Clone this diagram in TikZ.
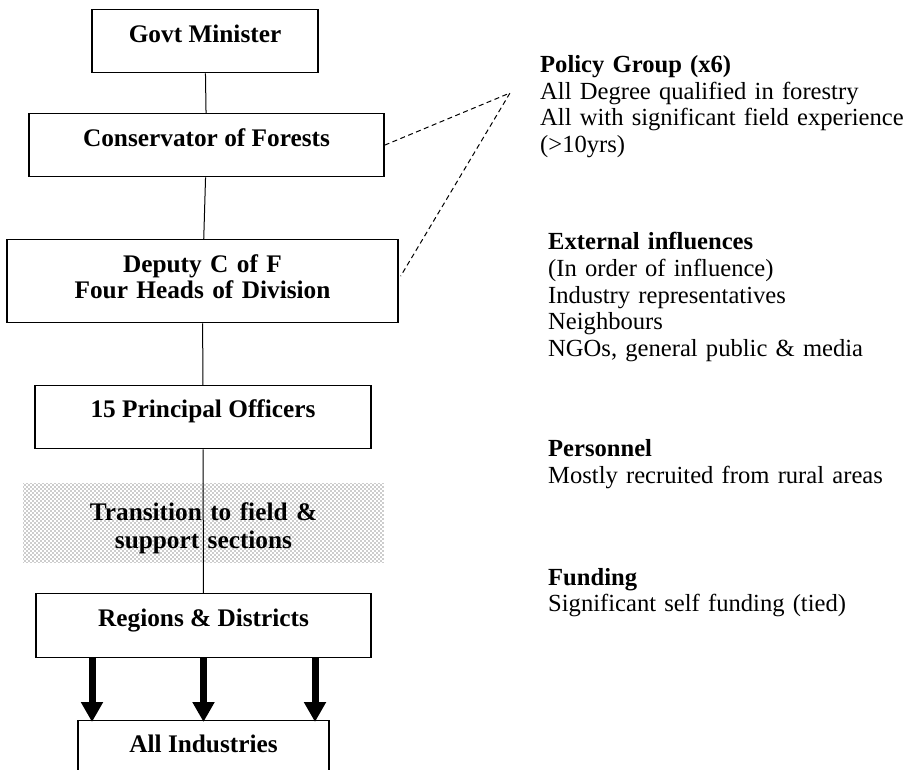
\documentclass[tikz,border=0pt]{standalone}
\usepackage{fontspec}
\setmainfont{Liberation Serif}
\usetikzlibrary{calc,arrows.meta,patterns}

% sparse dot screen for the transition band
\pgfdeclarepatternformonly{screendots}{\pgfpoint{-1pt}{-1pt}}{\pgfpoint{5pt}{5pt}}{\pgfpoint{4pt}{4pt}}{
\pgfpathcircle{\pgfpoint{1pt}{1pt}}{0.7pt}
\pgfpathcircle{\pgfpoint{3pt}{3pt}}{0.7pt}
\pgfusepath{fill}}

\begin{document}
\begin{tikzpicture}[x=1pt,y=-1pt,font=\fontsize{25.3}{26.8}\selectfont]

\tikzset{orgbox/.style={draw,line width=1.3pt,inner sep=0pt,anchor=north,font=\fontsize{25.3}{26.8}\selectfont\bfseries,text height=32.4pt,text depth=30.6pt},
notes/.style={anchor=base west,align=left,text width=420pt,inner sep=0pt,font=\fontsize{24.6}{26.8}\selectfont},
bigarrow/.style={line width=7pt,-{Triangle[length=20pt,width=21pt]}}}

\useasboundingbox (0,0) rectangle (912,770);

% Hierarchy boxes
\node (gov) [orgbox,minimum width=226pt] at (205,9) {Govt Minister};
\node (con) [orgbox,minimum width=355pt] at (206.5,113) {Conservator of Forests};
\node (dep) [orgbox,text width=391pt,align=center,text depth=50.6pt] at (202.5,239) {Deputy C of F\\Four Heads of Division};
\node (prin) [orgbox,minimum width=336pt,text height=31.4pt,text depth=31.6pt] at (203,385) {15 Principal Officers};
\node (trans) [anchor=north,pattern=screendots,pattern color=black!85,inner sep=0pt,text width=361pt,align=center,font=\fontsize{25.3}{28}\selectfont\bfseries,text height=37pt,text depth=42pt] at (203.5,483) {Transition to field \&\\support sections};
\node (reg) [orgbox,minimum width=335pt,text depth=31.6pt] at (203.5,593) {Regions \& Districts};
\node (ind) [orgbox,minimum width=251pt,text height=31.4pt,text depth=45pt] at (203.5,720) {All Industries};

% Policy group apex
\coordinate (pg) at (510,93);

% Notes on the right
\node (policy) [notes] at (540,72.4) {\textbf{Policy Group (x6)}\\All Degree qualified in forestry\\All with significant field experience\\(>10yrs)};
\node (extern) [notes] at (548,249.4) {\textbf{External influences}\\(In order of influence)\\Industry representatives\\Neighbours\\NGOs, general public \& media};
\node (staff) [notes] at (548,456.4) {\textbf{Personnel}\\Mostly recruited from rural areas};
\node (fund) [notes] at (548,585) {\textbf{Funding}\\Significant self funding (tied)};

% Edges
\draw[line width=1pt] (gov) -- (con); \draw[line width=1pt] (con) -- (dep); \draw[line width=1pt] (dep) -- (prin); \draw[line width=1pt] (prin) -- (reg);
\draw[line width=1pt,dash pattern=on 5pt off 3.5pt] (con.east) -- (pg) -- ($(dep.east)+(2,-5)$);
\foreach \dx in {-111.5,0,111.5} \draw[bigarrow] ($(reg.south)+(\dx,0)$) -- ($(ind.north)+(\dx,2)$); % to industries

\end{tikzpicture}
\end{document}
